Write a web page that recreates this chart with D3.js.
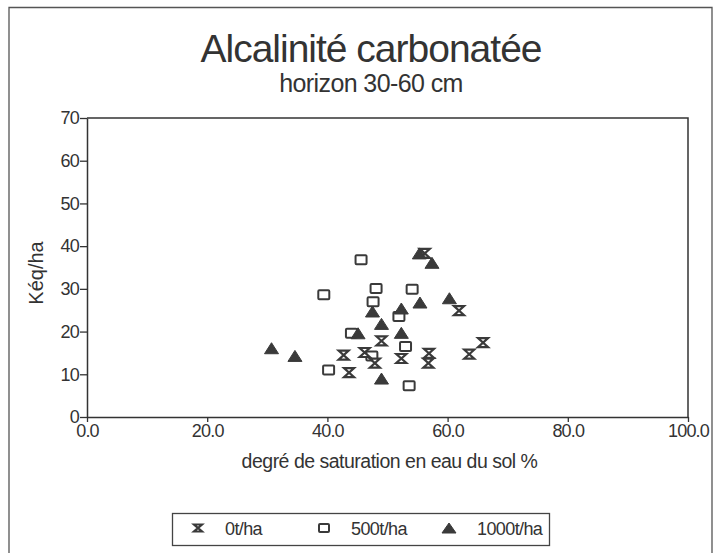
<!DOCTYPE html>
<html>
<head>
<meta charset="utf-8">
<script src="https://cdn.jsdelivr.net/npm/d3@7"></script>
<style>
  html, body { margin: 0; padding: 0; background: #fff; }
  svg { display: block; font-family: "Liberation Sans", Arial, Helvetica, sans-serif; }
</style>
</head>
<body>
<svg id="chart" width="720" height="553"></svg>
<script>
// Degré de saturation (%) and alcalinité carbonatée (Kéq/ha), one pair of arrays per dose
const sat0    = [56.2, 61.9, 49.0, 65.9, 42.7, 46.2, 47.9, 52.3, 56.9, 56.8, 63.6, 43.6];
const alk0    = [38.3, 24.9, 17.8, 17.4, 14.5, 15.1, 12.6, 13.7, 14.9, 12.6, 14.7, 10.4];

const sat500  = [45.6, 39.4, 48.1, 54.1, 47.6, 51.9, 44.0, 53.0, 47.4, 40.2, 53.6];
const alk500  = [36.8, 28.6, 30.1, 29.9, 27.0, 23.5, 19.6, 16.5, 14.3, 11.0, 7.3];

const sat1000 = [55.3, 57.4, 60.3, 55.4, 52.3, 47.5, 49.0, 52.3, 45.1, 30.7, 34.6, 49.0];
const alk1000 = [38.3, 36.1, 27.8, 26.8, 25.4, 24.7, 21.8, 19.7, 19.6, 16.1, 14.3, 9.0];

const xTicks = [0, 20, 40, 60, 80, 100];
const yTicks = [0, 10, 20, 30, 40, 50, 60, 70];

const seriesNames = ["0t/ha", "500t/ha", "1000t/ha"];
const titleText = "Alcalinité carbonatée";
const subtitleText = "horizon 30-60 cm";
const xTitle = "degré de saturation en eau du sol %";
const yTitle = "Kéq/ha";

const ink = "#333";
const markInk = "#3a3a3a";

const svg = d3.select("#chart");

// page frame
svg.append("path")
  .attr("d", "M9,560 V7.5 H712 V560")
  .attr("fill", "none").attr("stroke", "#555").attr("stroke-width", 1.3);

const x = d3.scaleLinear().domain([0, 100]).range([87, 688]);
const y = d3.scaleLinear().domain([0, 70]).range([417, 118]);

// titles
svg.append("text")
  .attr("x", 371).attr("y", 62)
  .attr("text-anchor", "middle")
  .attr("font-size", 39).attr("letter-spacing", -1)
  .attr("fill", ink)
  .text(titleText);
svg.append("text")
  .attr("x", 371).attr("y", 92)
  .attr("text-anchor", "middle")
  .attr("font-size", 25).attr("letter-spacing", -0.6)
  .attr("fill", ink)
  .text(subtitleText);

// plot box (top and right edges)
svg.append("path")
  .attr("d", `M${x(0)},${y(70)} H${x(100)} V${y(0)}`)
  .attr("fill", "none").attr("stroke", ink).attr("stroke-width", 1.5);

// axes
const xAxis = svg.append("g")
  .attr("transform", `translate(0,${y(0)})`)
  .call(d3.axisBottom(x).tickValues(xTicks).tickSize(5).tickSizeOuter(0).tickPadding(2)
    .tickFormat(d3.format(".1f")));
const yAxis = svg.append("g")
  .attr("transform", `translate(${x(0)},0)`)
  .call(d3.axisLeft(y).tickValues(yTicks).tickSize(7).tickSizeOuter(0).tickPadding(1)
    .tickFormat(d3.format("d")));

[xAxis, yAxis].forEach(g => {
  g.select(".domain").attr("stroke", ink).attr("stroke-width", 1.5);
  g.selectAll(".tick line").attr("stroke", ink).attr("stroke-width", 1.3);
  g.selectAll(".tick text")
    .attr("fill", ink)
    .attr("font-size", 18)
    .attr("letter-spacing", -0.8)
    .attr("font-family", "'Liberation Sans', Arial, sans-serif");
});

svg.append("text")
  .attr("x", (x(0) + x(100)) / 2 + 2).attr("y", 468)
  .attr("text-anchor", "middle")
  .attr("font-size", 19.5).attr("letter-spacing", -0.5)
  .attr("fill", ink)
  .text(xTitle);

svg.append("text")
  .attr("transform", `translate(43,273) rotate(-90)`)
  .attr("text-anchor", "middle")
  .attr("font-size", 20).attr("letter-spacing", 0)
  .attr("fill", ink)
  .text(yTitle);

// marker shapes
const hourglass = (w, h) => `M${-w/2},${-h/2}H${w/2}L${-w/2},${h/2}H${w/2}Z`;
const triangle  = (w, h) => `M0,${-h/2}L${w/2},${h/2}H${-w/2}Z`;

const zip = (a, b) => a.map((v, i) => [v, b[i]]);

function drawSquares(g, pts, w, h) {
  g.selectAll("rect").data(pts).join("rect")
    .attr("x", d => x(d[0]) - w / 2).attr("y", d => y(d[1]) - h / 2)
    .attr("width", w).attr("height", h).attr("rx", 1)
    .attr("fill", "#fff").attr("stroke", markInk).attr("stroke-width", 2);
}
function drawHourglass(g, pts, w, h) {
  g.selectAll("path").data(pts).join("path")
    .attr("transform", d => `translate(${x(d[0])},${y(d[1])})`)
    .attr("d", hourglass(w, h))
    .attr("fill", "#fff").attr("stroke", markInk).attr("stroke-width", 2.2)
    .attr("stroke-linejoin", "miter");
}
function drawTriangles(g, pts, w, h) {
  g.selectAll("path").data(pts).join("path")
    .attr("transform", d => `translate(${x(d[0])},${y(d[1])})`)
    .attr("d", triangle(w, h))
    .attr("fill", markInk).attr("stroke", markInk).attr("stroke-width", 1)
    .attr("stroke-linejoin", "round");
}

drawSquares(svg.append("g"), zip(sat500, alk500), 11, 9);
drawHourglass(svg.append("g"), zip(sat0, alk0), 10, 9);
drawTriangles(svg.append("g"), zip(sat1000, alk1000), 14, 11);

// legend
const lg = svg.append("g");
lg.append("rect")
  .attr("x", 172.5).attr("y", 513.5).attr("width", 377).attr("height", 32)
  .attr("fill", "#fff").attr("stroke", "#444").attr("stroke-width", 1.3);

const legendItems = [
  { sx: 198, tx: 225, draw: g => drawHourglass(g, [[x.invert(0), y.invert(0)]], 8, 7) },
  { sx: 324, tx: 351, draw: g => drawSquares(g, [[x.invert(0), y.invert(0)]], 10, 8) },
  { sx: 449, tx: 477, draw: g => drawTriangles(g, [[x.invert(0), y.invert(0)]], 14, 10) }
];
legendItems.forEach((it, i) => {
  const g = lg.append("g").attr("transform", `translate(${it.sx},528)`);
  it.draw(g);
  lg.append("text")
    .attr("x", it.tx).attr("y", 535)
    .attr("font-size", 18).attr("letter-spacing", -0.6)
    .attr("fill", ink)
    .text(seriesNames[i]);
});
</script>
</body>
</html>
